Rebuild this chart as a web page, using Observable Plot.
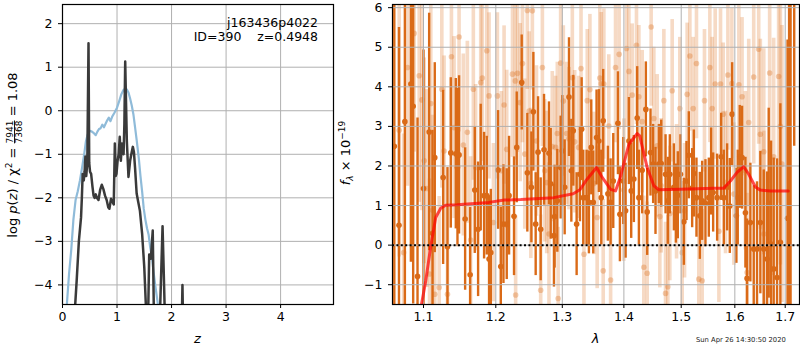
<!DOCTYPE html>
<html><head><meta charset="utf-8">
<script src="https://cdn.jsdelivr.net/npm/d3@7"></script>
<script src="https://cdn.jsdelivr.net/npm/@observablehq/plot@0.6"></script>
<style>
html,body{margin:0;padding:0;background:#fff;}
#wrap{position:relative;width:800px;height:350px;overflow:hidden;font-family:"DejaVu Sans";}
#left{position:absolute;left:0;top:0;}
#right{position:absolute;left:340px;top:0;}
#ov{position:absolute;left:0;top:0;pointer-events:none;}
</style></head><body>
<div id="wrap"><div id="left"></div><div id="right"></div>
<svg id="ov" width="800" height="350" font-family="DejaVu Sans" fill="black">
  <text text-anchor="end" x="318" y="26.5" font-size="12.5">j163436p4022</text>
  <text text-anchor="end" x="318" y="40.5" font-size="12.5" style="white-space:pre">ID=390    z=0.4948</text>
  <text transform="translate(17,155) rotate(-90)" text-anchor="middle" font-size="13">log <tspan font-style="italic">p</tspan>(<tspan font-style="italic">z</tspan>) / χ<tspan dy="-5" font-size="9">2</tspan><tspan dy="5"> = </tspan><tspan font-size="9" dy="-4.5">7941</tspan><tspan font-size="9" dx="-22.9" dy="9.5" style="text-decoration:overline">7368</tspan><tspan dy="-5"> = 1.08</tspan></text>
  <text transform="translate(350,153) rotate(-90)" text-anchor="middle" font-size="13"><tspan font-style="italic">f</tspan><tspan font-style="italic" font-size="9" dy="3">λ</tspan><tspan dy="-3"> × 10</tspan><tspan font-size="9" dy="-5">−19</tspan></text>
  <text x="197.5" y="343" text-anchor="middle" font-size="13" font-style="italic">z</text>
  <text x="595.5" y="343" text-anchor="middle" font-size="13" font-style="italic">λ</text>
  <text x="696" y="341.5" font-size="6.8" fill="#222">Sun Apr 26 14:30:50 2020</text>
</svg></div>
<script>
// ---- left panel: log p(z) ----
const zTicks = [0, 1, 2, 3, 4];
const logpTicks = [-4, -3, -2, -1, 0, 1, 2];
const pzBlueZ = [0.03,0.08,0.12,0.16,0.20,0.24,0.28,0.32,0.36,0.40,0.43,0.46,0.50,0.54,0.58,0.61,0.64,0.67,0.70,0.73,0.76,0.79,0.82,0.85,0.88,0.91,0.95,1.00,1.04,1.08,1.12,1.15,1.18,1.21,1.24,1.27,1.30,1.33,1.36,1.40,1.43,1.46,1.49,1.52,1.55,1.58,1.61,1.64,1.67,1.70,1.75,1.80];
const pzBlue = [-5.3,-4.45,-3.75,-3.2,-2.5,-2.05,-1.85,-1.6,-1.3,-0.98,-0.7,-0.55,-0.46,-0.48,-0.52,-0.56,-0.48,-0.42,-0.40,-0.32,-0.38,-0.30,-0.22,-0.16,-0.24,-0.14,-0.05,0.07,0.22,0.38,0.48,0.51,0.49,0.42,0.28,0.12,-0.08,-0.37,-0.67,-1.1,-1.5,-1.85,-2.25,-2.5,-2.7,-2.85,-3.15,-3.36,-3.7,-4.0,-4.45,-5];
const pzDarkZ = [0.20,0.233,0.26,0.30,0.34,0.355,0.37,0.39,0.405,0.42,0.435,0.455,0.477,0.49,0.505,0.525,0.55,0.57,0.59,0.61,0.63,0.66,0.69,0.72,0.75,0.78,0.81,0.84,0.86,0.89,0.92,0.94,0.96,0.975,0.99,1.01,1.03,1.05,1.07,1.09,1.12,1.135,1.15,1.165,1.18,1.21,1.24,1.27,1.29,1.31,1.33,1.36,1.39,1.42,1.46,1.50,1.53,1.56,1.59,1.62,1.655,1.675,1.72,1.78,1.835,1.875,1.92,2.17,2.2,2.225];
const pzDark = [-6,-4.45,-3.9,-3.0,-2.45,-2.0,-1.45,-1.6,-1.4,-1.05,-1.5,-1.2,1.55,-1.2,-1.4,-1.45,-1.75,-1.95,-2.0,-1.92,-2.0,-2.05,-1.82,-1.70,-1.80,-1.95,-2.05,-2.22,-2.25,-2.02,-2.1,-2.15,-0.75,-1.5,-1.45,-1.15,-1.0,-0.60,-1.15,-0.75,-1.0,-0.3,1.13,0.2,-0.7,-1.52,-1.15,-0.95,-0.83,-0.95,-1.3,-1.9,-2.1,-2.3,-2.82,-3.6,-4.5,-5.5,-3.3,-3.4,-2.75,-4.6,-6,-5,-2.65,-4.6,-6,-6,-4.0,-6];

// ---- right panel: spectrum ----
const lamTicks = [1.1, 1.2, 1.3, 1.4, 1.5, 1.6, 1.7];
const fluxTicks = [-1, 0, 1, 2, 3, 4, 5, 6];
const darkLam = [1.062,1.068,1.0756,1.0834,1.0864,1.0921,1.100,1.1075,1.112,1.115,
1.1263,1.1322,1.1367,1.1436,1.1459,1.1481,1.1565,1.1635,1.170,1.1747,
1.1784,1.1832,1.187,1.1903,1.1928,1.2033,1.2072,1.2111,1.2159,1.2193,
1.2266,1.2306,1.238,1.2464,1.2525,1.2555,1.259,1.2626,1.2666,1.2717,
1.2793,1.282,1.287,1.288,1.2922,1.2974,1.300,1.3037,1.3105,1.3142,
1.3173,1.3226,1.3279,1.3306,1.3332,1.3386,1.3423,1.3461,1.3493,1.3547,
1.3585,1.3624,1.3656,1.3733,1.3778,1.3822,1.390,1.3933,1.399,1.4029,
1.4085,1.4124,1.4169,1.4226,1.4255,1.4312,1.4375,1.4398,1.4456,1.4502,
1.4543,1.4602,1.4643,1.472,1.4761,1.4796,1.4868,1.4904,1.4939,1.4987,
1.5048,1.5096,1.5138,1.5199,1.523,1.5278,1.534,1.5383,1.5444,1.5507,
1.555,1.5588,1.5663,1.5739,1.5789,1.5852,1.5903,1.5948,1.603,1.6056,
1.6095,1.614,1.6205,1.6237,1.6302,1.6368,1.6433,1.6499,1.6567,1.6633,
1.6666,1.6713,1.6766,1.6834,1.6901,1.7048,1.708,1.711,1.7185];
const darkFlux = [2.5,0.5,3.12,4.07,3.51,-0.79,1.43,2.86,0.30,2.21,
1.71,-0.04,2.33,2.31,1.96,2.28,0.66,-0.75,1.39,0.40,
1.96,1.25,1.25,-0.35,-0.19,1.90,-0.54,0.53,0.53,1.25,
0.73,2.47,4.11,1.83,1.46,3.37,0.53,2.35,0.40,2.41,
2.32,1.55,0.24,0.72,1.12,1.96,2.38,1.46,3.74,1.88,
2.89,0.53,1.79,2.93,1.20,1.20,1.08,2.47,1.08,2.72,
2.63,1.20,3.14,1.30,1.08,1.62,3.08,0.78,1.62,0.87,
2.63,1.37,1.67,3.21,1.20,1.89,3.43,0.84,2.34,2.05,
1.37,2.05,2.06,1.79,1.12,1.79,1.46,1.05,1.26,1.79,
0.59,1.62,2.27,1.44,1.81,1.20,0.74,1.12,1.06,1.20,
1.86,1.33,1.20,2.23,1.20,1.46,0.99,3.31,0.74,1.20,
2.23,2.21,0.82,-0.84,0.57,-0.10,-0.10,0.57,-0.10,-0.35,
1.06,0.03,-0.60,-0.82,0.07,0.68,7.5,-6,7.0];
const darkErr = [6,5,5,4.5,5,4,3.5,3,2.6,2.4,
2.2,2.0,1.9,1.9,2.0,2.0,1.8,1.7,1.6,1.7,
1.6,1.6,1.5,1.6,1.6,1.5,1.5,1.5,1.4,1.5,
1.5,1.4,1.2,1.5,1.4,1.5,1.3,1.4,1.3,1.4,
1.3,1.4,1.3,1.3,1.3,1.3,1.4,1.2,1.5,1.3,
1.4,1.3,1.2,1.3,1.2,1.2,1.3,1.2,1.3,1.2,
1.3,1.2,1.3,1.2,1.1,1.2,1.3,1.2,1.1,1.2,
1.1,1.2,1.1,1.3,1.2,1.1,1.2,1.1,1.1,1.0,
1.1,1.0,1.1,1.0,1.1,1.0,1.1,1.0,1.1,1.0,
1.1,1.0,1.1,1.0,1.1,1.0,1.1,1.0,1.1,1.0,
1.1,1.0,1.1,1.1,1.2,1.1,1.2,1.3,1.2,1.2,
1.3,1.3,1.4,1.5,1.5,1.6,1.7,1.8,2.0,2.2,
2.4,2.6,2.8,3.0,3.5,4.5,9,13,4.5];
const lightLam = [1.0683,1.0740,1.0791,1.0877,1.0943,1.0978,1.1009,1.1044,1.1080,1.1097,
1.112,1.115,1.121,1.1245,1.1276,1.1322,1.1376,1.1412,1.1481,1.154,
1.1596,1.1642,1.168,1.1712,1.1784,1.1807,1.187,1.1903,1.1966,1.2023,
1.2081,1.212,1.2159,1.2243,1.2285,1.229,1.2317,1.2357,1.2391,1.2426,
1.2464,1.2492,1.2517,1.254,1.2602,1.2666,1.2692,1.2728,1.2758,1.2793,
1.2844,1.2895,1.2922,1.2935,1.2974,1.3016,1.3068,1.3105,1.3158,1.3195,
1.3258,1.3296,1.3343,1.3396,1.3439,1.3503,1.3557,1.36,1.3624,1.3656,
1.3667,1.3748,1.3778,1.386,1.3921,1.3999,1.4044,1.4085,1.414,1.4214,
1.4255,1.4312,1.434,1.4398,1.4467,1.4514,1.4572,1.4619,1.4643,1.469,
1.472,1.4761,1.4796,1.4838,1.4916,1.4975,1.5018,1.506,1.5108,1.5157,
1.5218,1.5278,1.5321,1.5383,1.5426,1.5526,1.557,1.5626,1.5696,1.5727,
1.5778,1.5822,1.5867,1.5943,1.5982,1.6078,1.614,1.6205,1.6237,1.627,
1.6368,1.6466,1.6499,1.6567,1.657,1.6685,1.6766,1.6866,1.6901,1.6934];
const lightFlux = [2.90,-0.19,4.49,5.35,4.28,3.67,2.13,1.43,-0.73,3.58,
0.88,-1.24,-1.07,3.94,2.38,-1.24,4.76,2.97,5.26,2.53,
2.85,0.13,3.94,1.96,4.11,4.22,4.91,3.77,0.57,3.77,
1.88,3.54,2.42,4.32,4.15,-1.26,4.34,3.60,4.59,2.30,
5.93,3.39,1.56,5.92,2.63,-1.14,4.49,1.88,1.58,0.28,
2.49,2.47,2.82,-1.35,4.60,3.64,2.82,2.69,4.23,2.61,
2.47,4.46,-0.23,3.65,3.93,1.56,0.70,4.22,4.08,-0.65,
4.07,3.01,-0.88,4.49,4.82,1.39,4.97,4.39,3.79,5.05,
3.75,3.12,-0.56,-0.71,5.51,3.20,2.51,0.72,1.50,3.65,
-1.22,-1.05,0.80,3.90,1.35,3.45,-0.19,0.87,3.81,4.78,
3.45,4.59,-0.86,-0.90,3.65,4.49,3.45,4.07,0.35,4.07,
3.31,1.58,4.30,4.08,1.29,4.05,3.75,1.88,-0.69,3.10,
4.25,4.95,2.80,2.36,0.28,4.35,2.23,4.26,3.00,2.05];
const lightErr = [3.2,3.0,3.0,3.0,3.2,2.8,2.6,2.5,2.4,2.6,
2.4,2.2,2.3,2.5,2.4,2.2,2.4,2.3,2.4,2.3,
2.3,2.1,2.3,2.1,2.2,2.1,2.2,2.1,2.0,2.1,
2.0,2.0,2.0,2.1,2.0,2.0,2.0,2.0,2.0,1.9,
2.0,2.0,1.9,2.0,1.9,1.9,2.0,1.8,1.8,1.8,
1.9,1.8,1.8,1.8,2.0,1.9,1.8,1.8,1.9,1.8,
1.8,1.9,1.8,1.8,1.9,1.8,1.8,1.9,1.8,1.8,
1.9,1.8,1.8,1.9,1.9,1.8,2.0,1.9,1.8,2.0,
1.8,1.8,1.8,1.8,2.0,1.8,1.8,1.8,1.7,1.8,
1.8,1.8,1.7,1.8,1.7,1.8,1.8,1.7,1.8,1.9,
1.8,1.9,1.8,1.8,1.8,1.9,1.8,1.9,1.8,1.9,
1.8,1.8,1.9,1.9,1.8,2.0,2.0,2.0,2.0,2.1,
2.2,2.4,2.4,2.6,2.6,2.8,3.0,3.2,3.5,3.5];
const modelLam = [1.095,1.0974,1.103,1.1097,1.1163,1.123,1.1296,1.145,1.19,1.2125,1.2366,1.2867,1.3171,1.3279,1.339,1.3547,1.364,1.3778,1.386,1.394,1.4085,1.4226,1.427,1.4398,1.4514,1.4602,1.4987,1.56,1.5789,1.5915,1.6043,1.6172,1.627,1.6401,1.6499,1.67,1.7064];
const modelFlux = [-2.2,-1.49,-0.90,-0.02,0.70,0.93,1.01,1.02,1.08,1.14,1.15,1.20,1.30,1.40,1.66,1.96,1.71,1.41,1.37,1.71,2.55,2.82,2.76,1.96,1.50,1.40,1.41,1.44,1.44,1.62,1.84,1.98,1.79,1.47,1.39,1.37,1.37];

const blue = pzBlueZ.map((z, i) => ({z, v: pzBlue[i]}));
const darkPz = pzDarkZ.map((z, i) => ({z, v: pzDark[i]}));
const dark = darkLam.map((lam, i) => ({lam, f: darkFlux[i], e: darkErr[i]}));
const light = lightLam.map((lam, i) => ({lam, f: lightFlux[i], e: lightErr[i]}));
const model = modelLam.map((lam, i) => ({lam, f: modelFlux[i]}));

const fmt = d => (d < 0 ? "\u2212" + (-d) : String(d));
const style = {fontFamily: "DejaVu Sans", fontSize: "12.5px", color: "black", background: "transparent", overflow: "visible"};
const gridColor = "#b0b0b0";
const orange = "#da6a17";

const leftPlot = Plot.plot({
  width: 340, height: 350, marginLeft: 62, marginRight: 7, marginTop: 4, marginBottom: 46,
  style,
  x: {domain: [0, 4.97], ticks: zTicks, tickSize: 4, tickPadding: 4, label: null, tickFormat: fmt},
  y: {domain: [-4.45, 2.44], ticks: logpTicks, tickSize: 4, tickPadding: 6, label: null, tickFormat: fmt},
  marks: [
    Plot.ruleX(zTicks, {stroke: gridColor, strokeWidth: 1}),
    Plot.ruleY(logpTicks, {stroke: gridColor, strokeWidth: 1}),
    Plot.line(blue, {x: "z", y: "v", stroke: "#8fbbd9", strokeWidth: 2.2, clip: true}),
    Plot.line(darkPz, {x: "z", y: "v", stroke: "#3a3a3a", strokeWidth: 2.5, clip: true}),
    Plot.frame({stroke: "black", strokeWidth: 1.2})
  ]
});
document.getElementById("left").appendChild(leftPlot);

const rightPlot = Plot.plot({
  width: 460, height: 350, marginLeft: 52, marginRight: 1, marginTop: 4, marginBottom: 46,
  style,
  x: {type: "log", domain: [1.0597, 1.7295], ticks: lamTicks, tickFormat: d3.format(".1f"), tickSize: 4, tickPadding: 4, label: null},
  y: {domain: [-1.5, 6.08], ticks: fluxTicks, tickSize: 4, tickPadding: 6, label: null, tickFormat: fmt},
  marks: [
    Plot.ruleX(light, {x: "lam", y1: d => d.f - d.e, y2: d => d.f + d.e, stroke: orange, strokeOpacity: 0.25, strokeWidth: 3.6, clip: true}),
    Plot.dot(light, {x: "lam", y: "f", r: 2.8, fill: orange, fillOpacity: 0.32, clip: true}),
    Plot.ruleX(dark, {x: "lam", y1: d => d.f - d.e, y2: d => d.f + d.e, stroke: orange, strokeWidth: 2.4, clip: true}),
    Plot.dot(dark, {x: "lam", y: "f", r: 2.8, fill: orange, clip: true}),
    Plot.ruleX(lamTicks, {stroke: gridColor, strokeWidth: 1}),
    Plot.ruleY(fluxTicks, {stroke: gridColor, strokeWidth: 1}),
    Plot.line(model, {x: "lam", y: "f", stroke: "red", strokeWidth: 3, strokeOpacity: 0.7, clip: true}),
    Plot.ruleY([0], {stroke: "black", strokeWidth: 2, strokeDasharray: "2,2.4"}),
    Plot.frame({stroke: "black", strokeWidth: 1.2})
  ]
});
document.getElementById("right").appendChild(rightPlot);
</script>
</body></html>
